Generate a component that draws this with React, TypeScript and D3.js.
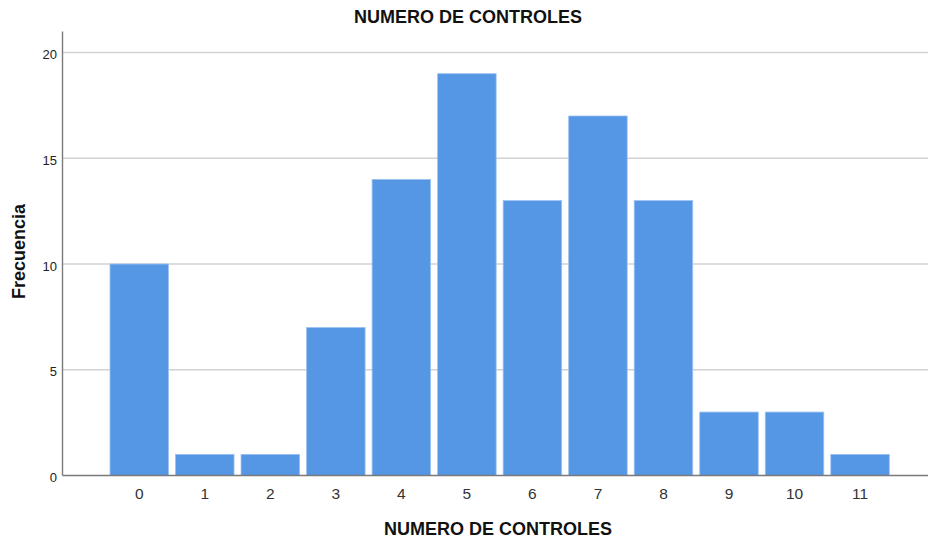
import React from "react";
import * as d3 from "d3";

const categories = ["0", "1", "2", "3", "4", "5", "6", "7", "8", "9", "10", "11"];
const frequencies = [10, 1, 1, 7, 14, 19, 13, 17, 13, 3, 3, 1];
const yTicks = [0, 5, 10, 15, 20];
const chartTitle = "NUMERO DE CONTROLES";
const xTitle = "NUMERO DE CONTROLES";
const yTitle = "Frecuencia";

const W = 928;
const H = 544;
const axisLeft = 62.5;
const axisRight = 928;
const baseY = 475.5;
const topY = 31.4;

export default function App() {
  const x = d3.scaleBand<string>().domain(categories).range([110, 889.3]).paddingInner(0.107).paddingOuter(0);
  const y = d3.scaleLinear().domain([0, 21]).range([baseY, topY]);
  const font = "'Liberation Sans', Arial, sans-serif";
  return (
    <svg width={W} height={H} style={{ position: "absolute", left: 0, top: 0, background: "#fff" }} fontFamily={font}>
      <rect x={0} y={0} width={W} height={H} fill="#fff" />
      {yTicks.filter((t) => t > 0).map((t) => (
        <line key={t} x1={axisLeft} x2={axisRight} y1={y(t)} y2={y(t)} stroke="#d2d2d2" strokeWidth={1.6} />
      ))}
      {frequencies.map((v, i) => (
        <rect
          key={i}
          x={x(categories[i])!}
          y={y(v)}
          width={x.bandwidth()}
          height={baseY - y(v)}
          fill="#5596e5"
          stroke="#9cc2f0"
          strokeWidth={0.8}
        />
      ))}
      <line x1={axisLeft} x2={axisLeft} y1={topY} y2={baseY} stroke="#7a7a7a" strokeWidth={1.4} />
      <line x1={axisLeft} x2={axisRight} y1={baseY} y2={baseY} stroke="#7a7a7a" strokeWidth={1.4} />
      {yTicks.map((t) => (
        <text key={t} x={57} y={y(t) + 6.5} textAnchor="end" fontSize={13} fill="#222">
          {t}
        </text>
      ))}
      {categories.map((c) => (
        <text key={c} x={x(c)! + x.bandwidth() / 2} y={499} textAnchor="middle" fontSize={15.5} fill="#333">
          {c}
        </text>
      ))}
      <text x={468} y={23} textAnchor="middle" fontSize={18} fontWeight="bold" fill="#111">
        {chartTitle}
      </text>
      <text x={498} y={535} textAnchor="middle" fontSize={18} fontWeight="bold" fill="#111">
        {xTitle}
      </text>
      <text transform={`translate(25, 251.5) rotate(-90)`} textAnchor="middle" fontSize={18} fontWeight="bold" fill="#111">
        {yTitle}
      </text>
    </svg>
  );
}
